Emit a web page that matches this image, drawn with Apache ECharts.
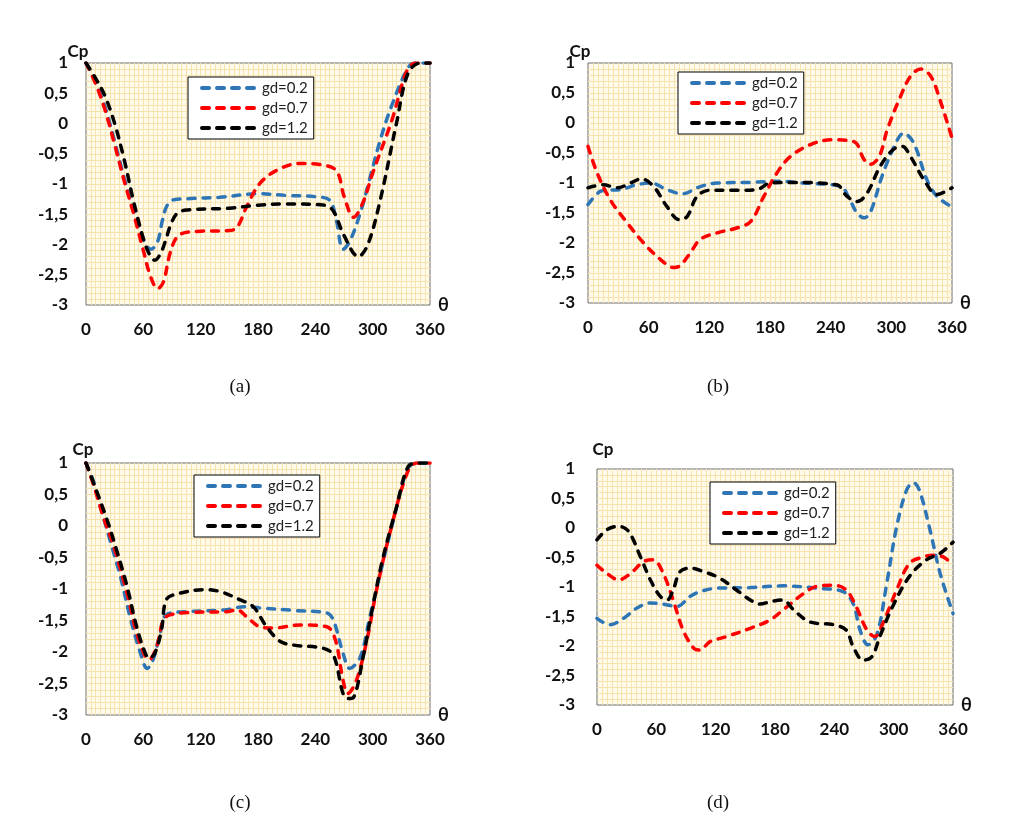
<!DOCTYPE html>
<html>
<head>
<meta charset="utf-8">
<script src="https://cdn.jsdelivr.net/npm/echarts@6/dist/echarts.min.js"></script>
<style>
html, body { margin: 0; padding: 0; background: #fff; }
#chart { width: 1013px; height: 838px; }
</style>
</head>
<body>
<div id="chart"></div>
<script>
// tick labels / legend names
const xTicks = [0, 60, 120, 180, 240, 300, 360];
const yTicks = [-3, -2.5, -2, -1.5, -1, -0.5, 0, 0.5, 1];
const names = ['gd=0.2', 'gd=0.7', 'gd=1.2'];
const captions = ['(a)', '(b)', '(c)', '(d)'];

// panel (a)  [theta, Cp]
const a02 = [[0,1],[10,0.68],[20,0.27],[30,-0.3],[40,-0.9],[50,-1.45],[60,-1.92],[68,-2.08],[75,-1.95],[80,-1.6],[85,-1.35],[92,-1.26],[110,-1.24],[140,-1.22],[180,-1.16],[210,-1.19],[240,-1.21],[255,-1.27],[262,-1.6],[269,-2.08],[276,-1.95],[287,-1.48],[298,-0.85],[308,-0.27],[320,0.3],[337,0.92],[345,1],[360,1]];
const a07 = [[0,1],[10,0.66],[20,0.22],[30,-0.35],[40,-0.95],[50,-1.5],[60,-2.1],[68,-2.55],[75,-2.73],[81,-2.62],[87,-2.2],[93,-1.93],[100,-1.82],[120,-1.78],[150,-1.77],[158,-1.72],[168,-1.38],[182,-0.99],[200,-0.77],[224,-0.66],[245,-0.68],[262,-0.78],[270,-1.2],[280,-1.55],[290,-1.3],[300,-0.82],[320,0.05],[336,0.88],[345,1],[360,1]];
const a12 = [[0,1],[10,0.75],[20,0.45],[30,0],[40,-0.6],[50,-1.3],[60,-1.9],[66,-2.15],[72,-2.26],[78,-2.15],[84,-1.9],[88,-1.7],[95,-1.49],[105,-1.43],[150,-1.4],[180,-1.35],[210,-1.33],[250,-1.35],[259,-1.45],[270,-1.85],[285,-2.2],[295,-2.0],[308,-1.26],[325,0.01],[337,0.83],[350,1],[360,1]];

// panel (b)
const b02 = [[0,-1.36],[12,-1.14],[20,-1.12],[32,-1.11],[48,-1.03],[62,-1.0],[78,-1.11],[93,-1.18],[111,-1.06],[128,-1.0],[160,-0.99],[187,-0.97],[213,-1.0],[250,-1.06],[259,-1.28],[266,-1.5],[273,-1.58],[279,-1.5],[292,-0.83],[306,-0.28],[312,-0.17],[322,-0.33],[335,-0.94],[345,-1.22],[360,-1.4]];
const b07 = [[0,-0.39],[9,-0.83],[22,-1.28],[39,-1.67],[55,-2.0],[72,-2.28],[85,-2.41],[91,-2.38],[101,-2.17],[111,-1.94],[128,-1.83],[147,-1.75],[161,-1.64],[174,-1.22],[187,-0.83],[200,-0.56],[220,-0.36],[240,-0.28],[263,-0.31],[273,-0.61],[279,-0.69],[288,-0.56],[296,-0.11],[309,0.44],[319,0.78],[329,0.9],[339,0.78],[348,0.39],[360,-0.25]];
const b12 = [[0,-1.08],[15,-1.03],[29,-1.08],[42,-1.0],[53,-0.93],[65,-1.06],[78,-1.39],[90,-1.61],[98,-1.56],[108,-1.22],[121,-1.12],[147,-1.12],[167,-1.11],[180,-1.0],[200,-0.99],[246,-1.03],[256,-1.22],[266,-1.31],[276,-1.17],[289,-0.72],[302,-0.44],[311,-0.39],[319,-0.56],[332,-0.94],[345,-1.19],[360,-1.08]];

// panel (c)
const c02 = [[0,1],[8,0.7],[15,0.31],[25,-0.22],[36,-0.8],[46,-1.44],[57,-2.02],[64,-2.26],[70,-2.13],[77,-1.75],[84,-1.41],[105,-1.36],[147,-1.33],[165,-1.28],[182,-1.3],[217,-1.34],[252,-1.38],[259,-1.5],[269,-2.02],[276,-2.26],[287,-2.08],[297,-1.45],[308,-0.75],[321,0.05],[336,0.89],[345,1],[360,1]];
const c07 = [[0,1],[9,0.6],[18,0.15],[29,-0.32],[43,-1.07],[53,-1.7],[62,-2.07],[66,-2.12],[74,-1.91],[81,-1.49],[88,-1.41],[112,-1.37],[147,-1.36],[158,-1.33],[168,-1.44],[182,-1.6],[196,-1.62],[224,-1.57],[252,-1.6],[261,-1.81],[269,-2.45],[274,-2.66],[283,-2.45],[294,-1.81],[304,-1.02],[318,-0.11],[336,0.84],[346,1],[360,1]];
const c12 = [[0,1],[10,0.6],[22,0.1],[32,-0.38],[43,-0.96],[53,-1.6],[62,-2.02],[66,-2.1],[72,-2.02],[79,-1.65],[84,-1.17],[95,-1.08],[123,-1.01],[140,-1.04],[161,-1.17],[175,-1.28],[189,-1.6],[203,-1.83],[217,-1.89],[248,-1.94],[259,-2.05],[269,-2.66],[274,-2.74],[280,-2.72],[290,-2.08],[300,-1.29],[311,-0.49],[325,0.3],[337,0.94],[348,1],[360,1]];

// panel (d)
const d02 = [[0,-1.53],[13,-1.64],[27,-1.53],[40,-1.36],[54,-1.27],[67,-1.29],[81,-1.33],[94,-1.16],[104,-1.08],[121,-1.02],[155,-1.01],[188,-0.98],[222,-1.02],[249,-1.08],[259,-1.28],[266,-1.73],[274,-1.98],[283,-1.81],[293,-0.94],[303,0.02],[313,0.64],[320,0.77],[326,0.64],[336,0.02],[347,-0.77],[360,-1.45]];
const d07 = [[0,-0.63],[10,-0.77],[22,-0.88],[34,-0.77],[47,-0.57],[57,-0.54],[67,-0.77],[77,-1.22],[87,-1.73],[98,-2.04],[104,-2.07],[114,-1.93],[131,-1.84],[155,-1.7],[175,-1.56],[188,-1.39],[209,-1.11],[222,-0.99],[239,-0.97],[252,-1.05],[262,-1.33],[273,-1.73],[281,-1.84],[289,-1.62],[303,-1.05],[316,-0.6],[330,-0.49],[340,-0.46],[350,-0.49],[360,-0.62]];
const d12 = [[0,-0.2],[10,-0.03],[22,0.03],[32,-0.06],[44,-0.49],[54,-0.88],[64,-1.16],[71,-1.22],[77,-1.05],[84,-0.74],[94,-0.68],[108,-0.74],[124,-0.85],[141,-1.05],[155,-1.22],[165,-1.29],[175,-1.25],[188,-1.22],[199,-1.39],[215,-1.59],[239,-1.64],[252,-1.73],[259,-2.01],[269,-2.24],[278,-2.18],[286,-1.84],[299,-1.33],[316,-0.82],[333,-0.54],[347,-0.43],[360,-0.24]];

const panels = [[a02, a07, a12], [b02, b07, b12], [c02, c07, c12], [d02, d07, d12]];

// layout (pixels)
const colors = ['#2e75b6', '#ff0000', '#000000'];
const grids = [
  { left: 86, top: 63, width: 344, height: 242 },
  { left: 588, top: 63, width: 364, height: 240 },
  { left: 86, top: 463, width: 344, height: 252 },
  { left: 597, top: 469, width: 356, height: 236 }
];
const legendPos = [[188, 77], [678, 72], [194, 475], [710, 482]];
const cpPos = [[78, 52], [580, 52], [83, 450], [603, 450]];
const capPos = [[240, 387], [718, 387], [240, 803], [718, 803]];
const yLabelMargin = [18, 13, 18, 22];

const font = 'Lato';
const gridLine = '#f7e3b0';

const option = {
  animation: false,
  backgroundColor: '#ffffff',
  grid: grids.map(g => Object.assign({
    show: true,
    backgroundColor: '#fffaea',
    borderColor: '#6e6e6e',
    borderWidth: 1,
    containLabel: false
  }, g)),
  xAxis: grids.map((g, i) => ({
    gridIndex: i,
    type: 'value',
    min: xTicks[0],
    max: xTicks[xTicks.length - 1],
    interval: 60,
    name: 'θ',
    nameLocation: 'end',
    nameGap: 8,
    nameTextStyle: { fontFamily: font, fontWeight: 'bold', fontSize: 18, color: '#111' },
    axisLine: { show: false, onZero: false },
    axisTick: { show: false },
    axisLabel: { margin: 16, fontFamily: font, fontWeight: 'bold', fontSize: 17, color: '#111' },
    splitLine: { show: true, showMinLine: false, showMaxLine: false, lineStyle: { color: gridLine, width: 1 } },
    minorTick: { show: false, splitNumber: 12 },
    minorSplitLine: { show: true, lineStyle: { color: gridLine, width: 1 } }
  })),
  yAxis: grids.map((g, i) => ({
    gridIndex: i,
    type: 'value',
    min: yTicks[0],
    max: yTicks[yTicks.length - 1],
    interval: 0.5,
    axisLine: { show: false, onZero: false },
    axisTick: { show: false },
    axisLabel: {
      margin: yLabelMargin[i],
      fontFamily: font, fontWeight: 'bold', fontSize: 17, color: '#111',
      formatter: v => String(v).replace('.', ',')
    },
    splitLine: { show: true, showMinLine: false, showMaxLine: false, lineStyle: { color: gridLine, width: 1 } },
    minorTick: { show: false, splitNumber: 5 },
    minorSplitLine: { show: true, lineStyle: { color: gridLine, width: 1 } }
  })),
  legend: legendPos.map(p => ({
    data: names,
    left: p[0],
    top: p[1],
    orient: 'vertical',
    backgroundColor: '#ffffff',
    borderColor: '#000',
    borderWidth: 1,
    borderRadius: 0,
    padding: [3, 6, 3, 12],
    itemWidth: 58,
    itemHeight: 14,
    itemGap: 4,
    selectedMode: false,
    itemStyle: { opacity: 0 },
    lineStyle: { width: 4 },
    textStyle: { fontFamily: font, fontSize: 15, color: '#222', lineHeight: 16, padding: [0, 0, 0, -3] }
  })),
  series: [],
  graphic: []
};

panels.forEach((set, i) => {
  set.forEach((data, k) => {
    option.series.push({
      type: 'line',
      name: names[k],
      xAxisIndex: i,
      yAxisIndex: i,
      data: data,
      smooth: 0.35,
      symbol: 'none',
      color: colors[k],
      lineStyle: { color: colors[k], width: 3.5, type: [7, 8], cap: 'round' }
    });
  });
  option.graphic.push({
    type: 'text', x: cpPos[i][0], y: cpPos[i][1],
    style: { text: 'Cp', font: 'bold 17px Lato', fill: '#111', align: 'center', verticalAlign: 'middle' }
  });
  option.graphic.push({
    type: 'text', x: capPos[i][0], y: capPos[i][1],
    style: { text: captions[i], font: '19px "Liberation Serif"', fill: '#111', align: 'center', verticalAlign: 'middle' }
  });
});

echarts.init(document.getElementById('chart')).setOption(option);
</script>
</body>
</html>
